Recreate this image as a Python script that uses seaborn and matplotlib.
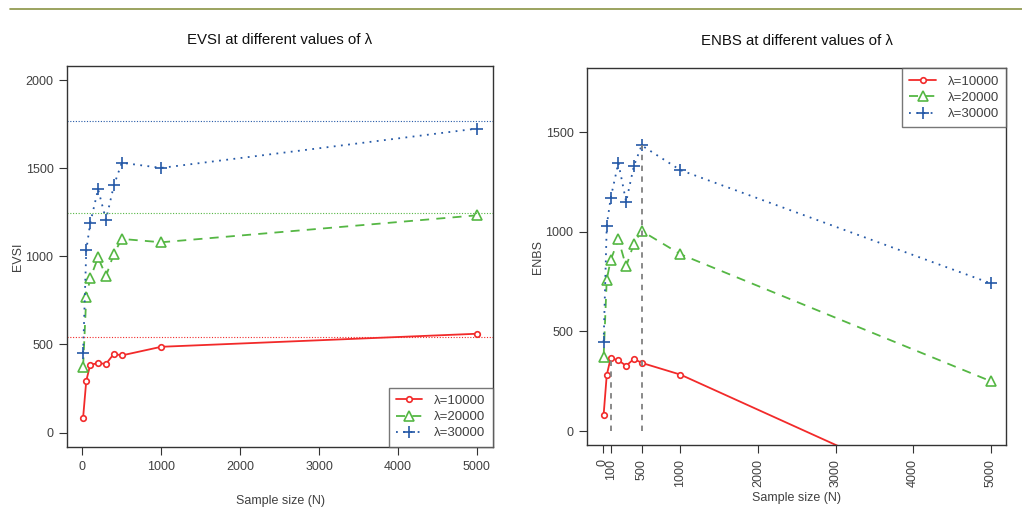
import numpy as np
import pandas as pd
import matplotlib
matplotlib.use("Agg")
import matplotlib.pyplot as plt
import seaborn as sns

sns.set_theme(style="white")
plt.rcParams['font.family'] = ['Liberation Sans', 'DejaVu Sans']

# ---- data ----
sample_sizes = [10, 50, 100, 200, 300, 400, 500, 1000, 5000]
lambdas = ["λ=10000", "λ=20000", "λ=30000"]

evsi_10000 = [85, 294, 385, 394, 390, 447, 438, 487, 561]
evsi_20000 = [375, 769, 875, 994, 888, 1015, 1099, 1080, 1233]
evsi_30000 = [453, 1034, 1188, 1381, 1207, 1403, 1531, 1502, 1725]
evpi = [542, 1246, 1769]

enbs_10000 = [82, 280, 365, 355, 327, 362, 342, 283, -422]
enbs_20000 = [373, 760, 856, 962, 826, 940, 1004, 887, 250]
enbs_30000 = [448, 1030, 1168, 1346, 1150, 1330, 1433, 1309, 741]

enbs_xticks = [0, 100, 500, 1000, 2000, 3000, 4000, 5000]
evsi_xticks = [0, 1000, 2000, 3000, 4000, 5000]

colors = ["#f22a2a", "#55b744", "#2559a7"]
linestyles = ["-", (0, (5, 4)), (0, (1, 3))]
markers = ["o", "^", "+"]
msizes = [4, 7, 9]

def long_df(series):
    rows = []
    for lab, vals in zip(lambdas, series):
        for n, v in zip(sample_sizes, vals):
            rows.append({"N": n, "value": v, "lam": lab})
    return pd.DataFrame(rows)

evsi_df = long_df([evsi_10000, evsi_20000, evsi_30000])
enbs_df = long_df([enbs_10000, enbs_20000, enbs_30000])

fig = plt.figure(figsize=(10.22, 5.13), dpi=100)
axL = fig.add_axes([0.0659, 0.1292, 0.4162, 0.7421])
axR = fig.add_axes([0.5747, 0.1326, 0.4099, 0.7343])

# olive top line
fig.add_artist(plt.Line2D([0.01, 1.0], [0.982, 0.982], color="#8a9444", lw=1.2,
                          transform=fig.transFigure))

def draw(ax, df):
    for i, lab in enumerate(lambdas):
        sub = df[df["lam"] == lab]
        mfc = "white" if markers[i] != "+" else colors[i]
        sns.lineplot(data=sub, x="N", y="value", ax=ax, color=colors[i],
                     linestyle=linestyles[i], marker=markers[i], markersize=msizes[i],
                     markerfacecolor=mfc, markeredgecolor=colors[i],
                     markeredgewidth=1.2, lw=1.3, label=lab, sort=False,
                     estimator=None, clip_on=True)

text_c = "#404040"

# ---- EVSI ----
draw(axL, evsi_df)
for i, v in enumerate(evpi):
    axL.axhline(v, color=colors[i], lw=0.8, linestyle=(0, (1, 1.5)))
axL.set_xlim(-189.6, 5199.6)
axL.set_ylim(-80, 2080)
axL.set_xticks(evsi_xticks)
axL.set_yticks([0, 500, 1000, 1500, 2000])
axL.set_title("EVSI at different values of λ", fontsize=10.8, color="#111111", pad=16)
axL.set_xlabel("Sample size (N)", fontsize=9, color=text_c, labelpad=16)
axL.set_ylabel("EVSI", fontsize=9, color=text_c, labelpad=1)

# ---- ENBS ----
draw(axR, enbs_df)
best = [(100, max(enbs_10000)), (500, max(enbs_30000))]
axR.vlines([b[0] for b in best], 0, [b[1] for b in best], colors="#808080",
           linestyles=(0, (3, 3)), lw=1.3)
axR.set_xlim(-200, 5200)
axR.set_ylim(-70, 1820)
axR.set_xticks(enbs_xticks)
axR.set_xticklabels([str(t) for t in enbs_xticks], rotation=90)
axR.set_yticks([0, 500, 1000, 1500])
axR.set_title("ENBS at different values of λ", fontsize=10.8, color="#111111", pad=17)
axR.set_xlabel("Sample size (N)", fontsize=9, color=text_c, labelpad=4)
axR.set_ylabel("ENBS", fontsize=9, color=text_c, labelpad=1)

for ax in (axL, axR):
    for s in ax.spines.values():
        s.set_color("#333333")
        s.set_linewidth(1.0)
    ax.tick_params(axis="both", which="both", direction="out", length=6, width=0.8,
                   color="#333333", labelsize=9, labelcolor=text_c, pad=4,
                   bottom=True, left=True)
    ax.grid(False)

legL = axL.legend(loc="lower right", fontsize=9.5, frameon=True, fancybox=False,
                  borderaxespad=0, handlelength=2.0, labelspacing=0.3,
                  borderpad=0.55, handletextpad=0.9)
legR = axR.legend(loc="upper right", fontsize=9.5, frameon=True, fancybox=False,
                  borderaxespad=0, handlelength=2.0, labelspacing=0.3,
                  borderpad=0.55, handletextpad=0.9)
for leg in (legL, legR):
    leg.get_frame().set_edgecolor("#555555")
    leg.get_frame().set_linewidth(1.0)
    for t in leg.get_texts():
        t.set_color(text_c)

fig.savefig("out.png", dpi=100, facecolor="white")
